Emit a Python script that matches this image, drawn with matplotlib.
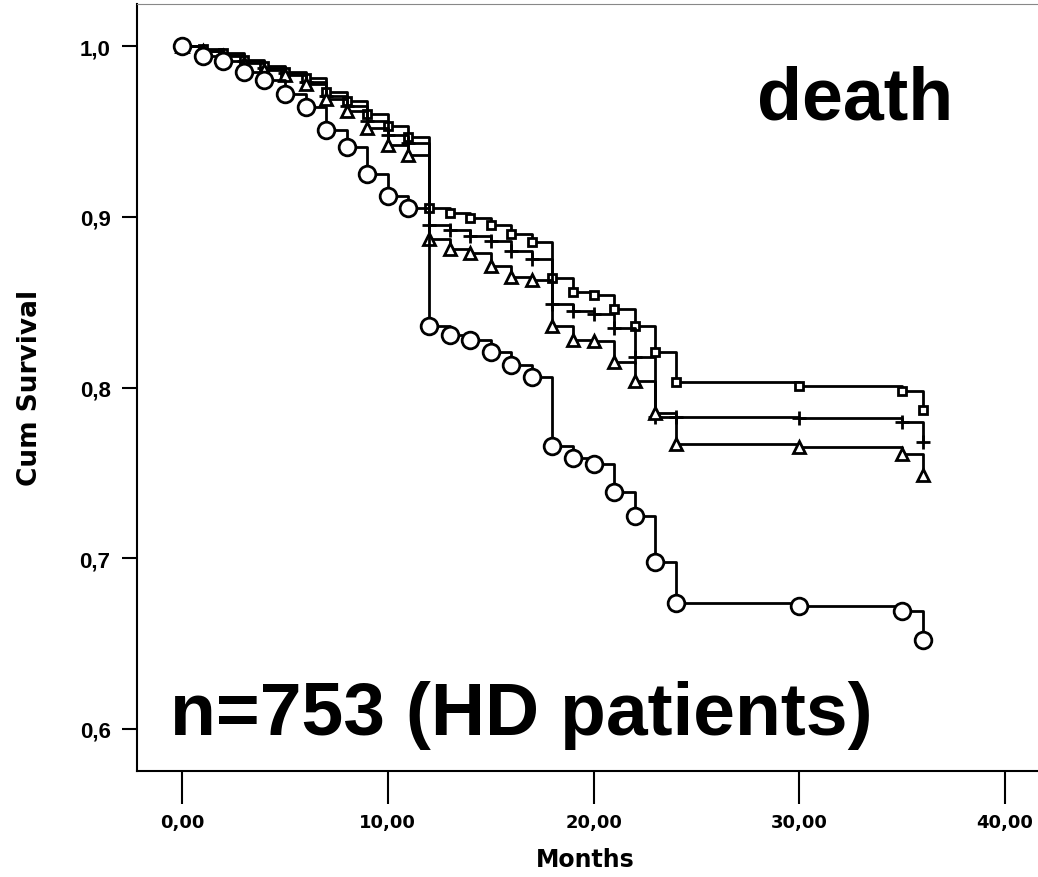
import matplotlib.pyplot as plt

# Kaplan-Meier curves (months, cumulative survival)
months = [0, 1, 2, 3, 4, 5, 6, 7, 8, 9, 10, 11, 12, 13, 14, 15, 16, 17, 18,
          19, 20, 21, 22, 23, 24, 30, 35, 36]
surv_square = [1.0, 0.998, 0.996, 0.992, 0.988, 0.985, 0.981, 0.973, 0.968, 0.960,
               0.953, 0.947, 0.905, 0.902, 0.899, 0.895, 0.890, 0.885, 0.864, 0.856,
               0.854, 0.846, 0.836, 0.821, 0.803, 0.801, 0.798, 0.787]
surv_plus = [1.0, 0.997, 0.995, 0.991, 0.987, 0.984, 0.979, 0.971, 0.965, 0.956,
             0.948, 0.943, 0.895, 0.892, 0.889, 0.886, 0.880, 0.875, 0.849, 0.845,
             0.843, 0.835, 0.818, 0.783, 0.783, 0.782, 0.780, 0.768]
surv_triangle = [1.0, 0.997, 0.994, 0.990, 0.986, 0.983, 0.978, 0.969, 0.962, 0.952,
                 0.942, 0.936, 0.887, 0.881, 0.879, 0.871, 0.865, 0.863, 0.836, 0.828,
                 0.827, 0.815, 0.804, 0.785, 0.767, 0.765, 0.761, 0.749]
surv_circle = [1.0, 0.994, 0.991, 0.985, 0.980, 0.972, 0.964, 0.951, 0.941, 0.925,
               0.912, 0.905, 0.836, 0.831, 0.828, 0.821, 0.813, 0.806, 0.766, 0.759,
               0.755, 0.739, 0.725, 0.698, 0.674, 0.672, 0.669, 0.652]

xticks = [0, 10, 20, 30, 40]
xticklabels = ['0,00', '10,00', '20,00', '30,00', '40,00']
yticks = [0.6, 0.7, 0.8, 0.9, 1.0]
yticklabels = ['0,6', '0,7', '0,8', '0,9', '1,0']

W, H = 1038, 878
fig = plt.figure(figsize=(W / 100, H / 100), dpi=100)
ax = fig.add_axes([137 / W, 1 - 772 / H, 1 - 137 / W, (772 - 5) / H])

curves = [(surv_square, 's', 6, 'white'),
          (surv_plus, '+', 10, 'none'),
          (surv_triangle, '^', 8, 'white'),
          (surv_circle, 'o', 12, 'white')]
for surv, mk, ms, fc in curves:
    ax.step(months, surv, where='post', color='black', lw=2.0)
    ax.plot(months, surv, ls='none', marker=mk, ms=ms, mfc=fc,
            mec='black', mew=2.0)

ax.set_xlim(-2.19, 41.6)
ax.set_ylim(0.5754, 1.0246)
ax.set_xticks(xticks)
ax.set_xticklabels(xticklabels, weight='bold', fontsize=13)
ax.set_yticks(yticks)
ax.set_yticklabels(yticklabels, family='Liberation Sans', weight='bold', fontsize=16)
ax.tick_params(axis='y', length=11, width=1.5, pad=8)
ax.tick_params(axis='x', length=24, width=1.5, pad=6)
ax.spines['right'].set_visible(False)
ax.spines['top'].set_color('#888888')
for s in ['left', 'bottom']:
    ax.spines[s].set_linewidth(1.5)

fig.text(30 / W, 1 - 388 / H, 'Cum Survival', rotation=90, ha='center', va='center',
         weight='bold', fontsize=19)
fig.text(585 / W, 1 - 860 / H, 'Months', ha='center', va='center',
         weight='bold', fontsize=17)

fig.text(757 / W, 1 - 120 / H, 'death', ha='left', va='baseline',
         family='Liberation Sans', weight='bold', fontsize=53)
fig.text(170 / W, 1 - 735 / H, 'n=753 (HD patients)', ha='left', va='baseline',
         family='Liberation Sans', weight='bold', fontsize=54)

fig.savefig('out.png', dpi=100)
